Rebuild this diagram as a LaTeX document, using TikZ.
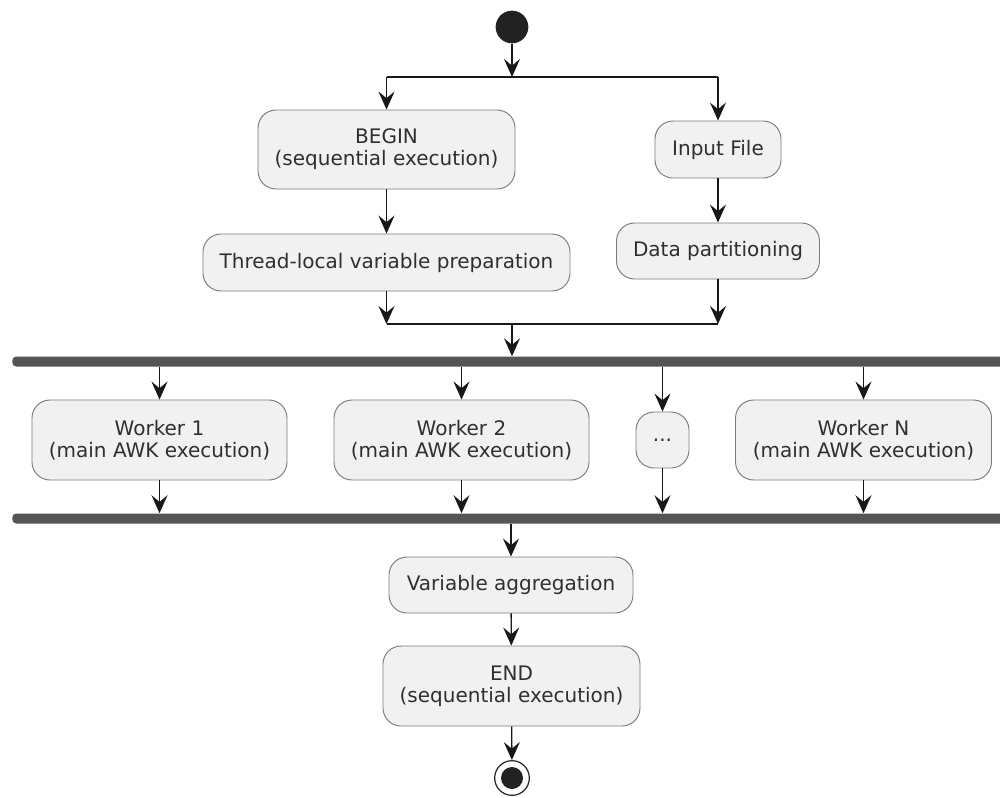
\documentclass[tikz,border=0pt]{standalone}
\usepackage{fontspec}
\setmainfont{DejaVu Sans}
\usetikzlibrary{arrows.meta}
\definecolor{boxfill}{HTML}{F1F1F1}
\definecolor{lineclr}{HTML}{181818}
\definecolor{borderclr}{HTML}{7A7A7A}
\definecolor{barclr}{HTML}{555555}
\definecolor{dotclr}{HTML}{222222}
\begin{document}
\begin{tikzpicture}[x=1pt,y=-1pt,
  act/.style={draw=borderclr, line width=0.7pt, fill=boxfill, rounded corners=13.5pt,
    align=center, inner sep=0pt, font=\fontsize{15pt}{16.5pt}\selectfont, text=lineclr!90},
  conn/.style={draw=lineclr, line width=1pt},
  arr/.style={conn, -{Stealth[length=13.5pt, width=12pt, inset=5pt]}},
  bar/.style={fill=barclr, rounded corners=3pt, inner sep=0pt, minimum height=7.5pt}
]
\begin{scope}[x=0.75pt,y=-0.75pt]
\useasboundingbox (0,0) rectangle (1000,797);
\clip (0,0) rectangle (1000,797);

% start
\node[circle, fill=dotclr, minimum size=24.5pt, inner sep=0pt] (start) at (512,27) {};

% fork / merge coordinates
\coordinate (fork) at (512,77);
\coordinate (forkL) at (386.5,77);
\coordinate (forkR) at (718,77);
\coordinate (merge) at (512,324);
\coordinate (mergeL) at (386.5,324);
\coordinate (mergeR) at (718,324);

% activities
\node[act, minimum width=192.75pt, minimum height=59.25pt] (begin) at (386.5,149.5) {BEGIN\\(sequential execution)};
\node[act, minimum width=94.5pt, minimum height=42.75pt] (input) at (718,149.5) {Input File};
\node[act, minimum width=275.25pt, minimum height=42.75pt] (tlv) at (386.5,262.5) {Thread-local variable preparation};
\node[act, minimum width=152.25pt, minimum height=42pt] (part) at (718,251) {Data partitioning};

% bars
\node[bar, minimum width=750pt, anchor=west] (bar1) at (12,361.5) {};
\node[bar, minimum width=750pt, anchor=west] (bar2) at (12,518.5) {};

% workers
\node[act, minimum width=191.25pt, minimum height=60pt] (w1) at (159.5,440) {Worker 1\\(main AWK execution)};
\node[act, minimum width=191.25pt, minimum height=60pt] (w2) at (461.5,440) {Worker 2\\(main AWK execution)};
\node[act, minimum width=39.75pt, minimum height=42pt] (wd) at (662.5,440) {...};
\node[act, minimum width=192pt, minimum height=60pt] (wn) at (863.5,440) {Worker N\\(main AWK execution)};

\node[act, minimum width=183pt, minimum height=42pt] (agg) at (511,585) {Variable aggregation};
\node[act, minimum width=192.75pt, minimum height=60pt] (end) at (511.5,686) {END\\(sequential execution)};

% end node
\node[circle, draw=dotclr, line width=0.9pt, fill=white, minimum size=26pt, inner sep=0pt] (stop) at (512,778) {};
\node[circle, fill=dotclr, minimum size=16.5pt, inner sep=0pt] (stopin) at (stop.center) {};

% connectors
\draw[arr] (start) -- (fork);
\draw[conn] (forkL) -- (forkR);
\draw[arr] (forkL) -- (begin.north);
\draw[arr] (forkR) -- (input.north);
\draw[arr] (begin) -- (tlv);
\draw[arr] (input) -- (part);
\draw[arr] (tlv.south) -- (mergeL);
\draw[arr] (part.south) -- (mergeR);
\draw[conn] (mergeL) -- (mergeR);
\draw[arr] (merge) -- (merge |- bar1.north);

\draw[arr] (bar1.south -| w1) -- (w1.north);
\draw[arr] (bar1.south -| w2) -- (w2.north);
\draw[arr] (bar1.south -| wd) -- (wd.north);
\draw[arr] (bar1.south -| wn) -- (wn.north);
\draw[arr] (w1.south) -- (w1.south |- bar2.north);
\draw[arr] (w2.south) -- (w2.south |- bar2.north);
\draw[arr] (wd.south) -- (wd.south |- bar2.north);
\draw[arr] (wn.south) -- (wn.south |- bar2.north);

\draw[arr] (bar2.south -| agg) -- (agg.north);
\draw[arr] (agg) -- (end);
\draw[arr] (end) -- (stop);
\end{scope}
\end{tikzpicture}
\end{document}
